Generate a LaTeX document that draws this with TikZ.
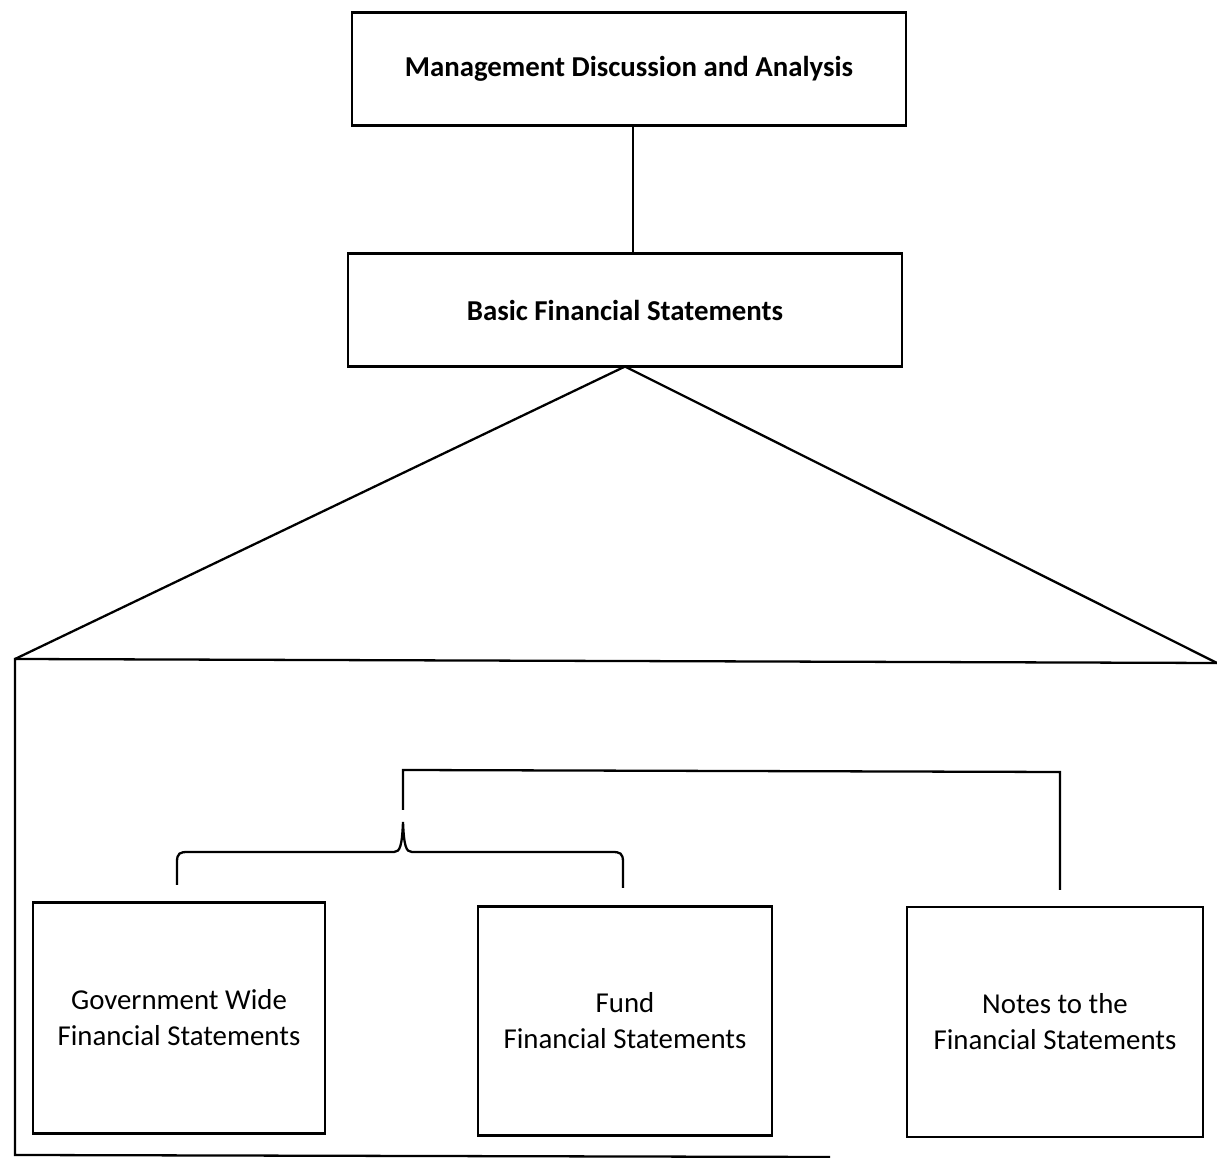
\documentclass[tikz,border=0pt]{standalone}
\usepackage{fontspec}
\setmainfont{Carlito}
\usetikzlibrary{
    positioning,
    calc
}

\begin{document}
\begin{tikzpicture}[x=0.01cm,y=-0.01cm,line width=0.65pt,
    box/.style={draw,line width=0.65pt,inner sep=0pt,outer sep=0pt,align=center,font=\fontsize{8.2}{10.2}\selectfont},
    headbox/.style={box,font=\fontsize{8.2}{10.2}\selectfont\bfseries}]
    \useasboundingbox (0,0) rectangle (1217,1158);
    % top boxes
    \node[headbox,minimum width=5.54cm,minimum height=1.13cm] (mda) at (629,69) {Management Discussion and Analysis};
    \node[headbox,minimum width=5.54cm,minimum height=1.13cm] (bfs) at (625,310) {Basic Financial Statements};
    \draw (633,126) -- (633,254);
    % roof and frame
    \coordinate (lt) at (15,659);
    \coordinate (rt) at (1217,663);
    \draw (bfs.south) -- (lt) (bfs.south) -- (rt);
    \draw (rt) -- (lt) -- (15,1155) -- (830,1157);
    % statement boxes
    \node[box,minimum width=2.92cm,minimum height=2.31cm] (gov) at (179,1018) {Government Wide\\Financial Statements};
    \node[box,minimum width=2.94cm,minimum height=2.29cm] (fund) at (625,1021) {Fund\\Financial Statements};
    \node[box,minimum width=2.96cm,minimum height=2.30cm] (notes) at (1055,1022) {Notes to the\\Financial Statements};
    % brace and bracket
    \draw (177,885) -- (177,862) .. controls (177,853) and (180,852) .. (188,852)
          -- (394,852) .. controls (400,852) and (402,846) .. (403,822)
          .. controls (404,846) and (406,852) .. (412,852)
          -- (612,852) .. controls (620,852) and (623,853) .. (623,862) -- (623,888);
    \draw (403,810) -- (403,770) -- (1060,772) -- (1060,890);
\end{tikzpicture}
\end{document}
